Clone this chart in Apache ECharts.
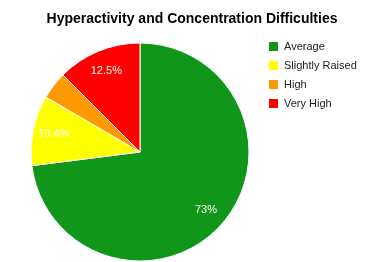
<!DOCTYPE html>
<html>
<head>
<meta charset="utf-8">
<script src="https://cdn.jsdelivr.net/npm/echarts@6/dist/echarts.min.js"></script>
<style>
  html, body { margin: 0; padding: 0; background: #fff; }
  #chart { width: 376px; height: 262px; }
</style>
</head>
<body>
<div id="chart"></div>
<script>
const categories = ['Average', 'Slightly Raised', 'High', 'Very High']
const values = [73, 10.4, 4.1, 12.5]
const colors = ['#109618', '#ffff00', '#ff9900', '#ff0000']

const data = categories.map((name, i) => ({ name, value: values[i] }))

const myChart = echarts.init(document.getElementById('chart'))
myChart.setOption({
  animation: false,
  color: colors,
  title: {
    text: 'Hyperactivity and Concentration Difficulties',
    left: 187,
    textAlign: 'center',
    top: 7,
    textStyle: { fontFamily: 'Liberation Sans', fontSize: 14, fontWeight: 'bold', color: '#000' }
  },
  legend: {
    orient: 'vertical',
    left: 267,
    top: 40,
    padding: 0,
    icon: 'rect',
    itemWidth: 11,
    itemHeight: 11,
    itemGap: 6,
    data: categories,
    textStyle: { fontFamily: 'Liberation Sans', fontSize: 11, color: '#222' }
  },
  series: [
    {
      type: 'pie',
      center: [140, 152],
      radius: 109,
      startAngle: 90,
      clockwise: true,
      data: data,
      itemStyle: { borderColor: '#fff', borderWidth: 1 },
      label: { show: false },
      labelLine: { show: false }
    },
    {
      // invisible twin only used to place the labels further out
      type: 'pie',
      center: [140, 152],
      radius: 170,
      startAngle: 90,
      clockwise: true,
      silent: true,
      legendHoverLink: false,
      data: data,
      itemStyle: { color: 'rgba(0,0,0,0)' },
      label: {
        show: true,
        position: 'inside',
        fontFamily: 'Liberation Sans',
        fontSize: 11,
        color: '#fff',
        formatter: p => (p.value < 5 ? '' : p.value + '%')
      },
      labelLine: { show: false }
    }
  ]
})
</script>
</body>
</html>
